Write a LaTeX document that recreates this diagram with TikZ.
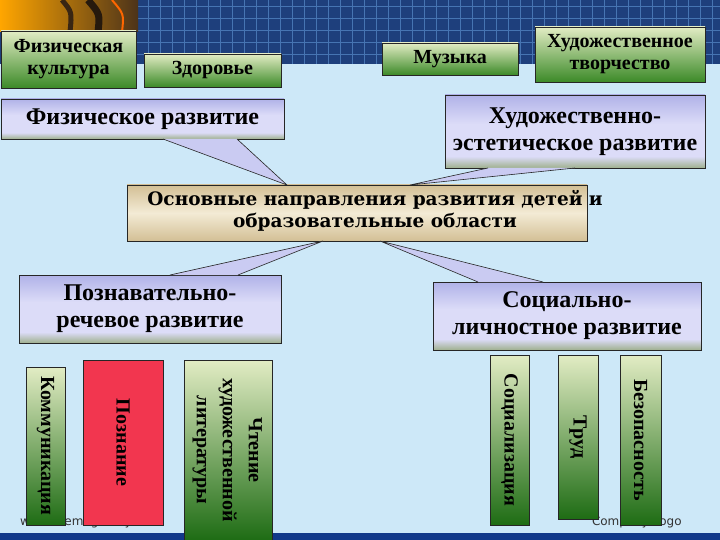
\documentclass[tikz,border=0pt]{standalone}
\usepackage{fontspec}
\usepackage{graphicx}
\setmainfont{Liberation Serif}
\newfontfamily\osnfont{DejaVu Serif}
\newfontfamily\footfont{DejaVu Sans}
\usetikzlibrary{calc}

\definecolor{bgblue}{HTML}{CDE8F8}
\definecolor{hdrblue}{HTML}{1E3F7C}
\definecolor{gridblue}{HTML}{4674B2}
\definecolor{barblue}{HTML}{12398A}
\definecolor{grtop}{HTML}{E2ECC4}
\definecolor{grbot}{HTML}{3C8A28}
\definecolor{vgrbot}{HTML}{1E6C14}
\definecolor{lavtop}{HTML}{B0B2E8}
\definecolor{lavmid}{HTML}{DCDCF8}
\definecolor{lavbot}{HTML}{9FB08E}
\definecolor{tanc}{HTML}{D3BF95}
\definecolor{cream}{HTML}{F3EBD5}
\definecolor{poznred}{HTML}{F2364F}

\pgfdeclareverticalshading{callout}{100bp}{color(0bp)=(lavbot); color(25bp)=(lavbot); color(33bp)=(lavmid); color(55bp)=(lavmid); color(75bp)=(lavtop); color(100bp)=(lavtop)}

\begin{document}
\begin{tikzpicture}[x=1pt, y=-1pt,
    every node/.style={inner sep=0pt, outer sep=0pt},
    grbox/.style={draw=black!85, line width=0.8pt, top color=grtop, bottom color=grbot,
        font=\bfseries\fontsize{20}{22}\selectfont, align=center},
    vbox/.style={draw=black!85, line width=0.8pt, top color=grtop, bottom color=vgrbot,
        font=\bfseries\fontsize{20}{26}\selectfont},
    callbox/.style={draw=black!85, line width=0.8pt, shading=callout,
        font=\bfseries\fontsize{24}{27}\selectfont, align=center},
    pointer/.style={draw=black!85, line width=0.6pt, fill=lavmid!60!lavtop},
    foot/.style={font=\footfont\fontsize{12}{14}\selectfont, text=black!80, anchor=base west}]
    \useasboundingbox (0,0) rectangle (720,540);
    % Background
    \fill[bgblue] (0,0) rectangle (720,540);

    % Header with grid
    \fill[hdrblue] (0,0) rectangle (720,64);
    \foreach \x in {136,148,...,720}
        \draw[gridblue, line width=0.7pt] (\x,0) -- (\x,64);
    \foreach \y in {6,18,...,64}
        \draw[gridblue, line width=0.7pt] (136,\y) -- (720,\y);
    \shade[left color=orange!70!yellow, right color=brown!40!black] (0,0) rectangle (138,32);
    \draw[brown!30!black, line width=5pt] (62,0) .. controls (72,12) .. (70,32);
    \draw[brown!20!black, line width=7pt] (88,0) .. controls (100,14) .. (98,32);
    \draw[orange!80!red, line width=2pt] (112,0) .. controls (124,14) .. (122,32);

    % Bottom bar
    \fill[barblue] (0,533) rectangle (720,540);

    % Footer texts
    \node[foot] (site) at (20,525) {www.themegallery.com};
    \node[foot] (logo) at (592,525) {Company Logo};

    % Top boxes
    \node[grbox, minimum width=135pt, minimum height=57pt] (fizkult) at (68.5,59.5) {Физическая\\культура};
    \node[grbox, minimum width=137pt, minimum height=33pt] (zdorov) at (212.5,70.5) {Здоровье};
    \node[grbox, minimum width=136pt, minimum height=32pt] (muzyka) at (450,59) {Музыка};
    \node[grbox, minimum width=170pt, minimum height=55pt] (hudtv) at (620,54.5) {Художественное\\творчество};

    % Callouts
    \node[callbox, minimum width=283pt, minimum height=40pt] (fizrazv) at (142.5,119) {Физическое развитие};
    \node[callbox, minimum width=260pt, minimum height=73pt] (hudest) at (575,131.5) {Художественно-\\эстетическое развитие};
    \node[callbox, minimum width=262pt, minimum height=68pt] (poznr) at (150,309) {Познавательно-\\речевое развитие};
    \node[callbox, minimum width=268pt, minimum height=68pt] (socl) at (567,316) {Социально-\\личностное развитие};

    % Central box
    \node[draw=black!85, line width=0.8pt, minimum width=460pt, minimum height=56pt,
        top color=tanc, bottom color=tanc, middle color=cream] (osn) at (357,213) {};
    \node[font=\osnfont\bfseries\fontsize{18.5}{22}\selectfont, align=center] (osntext) at (375,211)
        {Основные направления развития детей и\\образовательные области};

    % Pointers
    \draw[pointer] ($(fizrazv.south west)+(162,0)$) -- ($(osn.north west)+(160,0)$) -- ($(fizrazv.south west)+(236,0)$);
    \draw[pointer] ($(hudest.south west)+(43,0)$) -- ($(osn.north west)+(283,0)$) -- ($(hudest.south west)+(130,0)$);
    \draw[pointer] ($(poznr.north west)+(151,0)$) -- ($(osn.south west)+(196,0)$) -- ($(poznr.north west)+(219,0)$);
    \draw[pointer] ($(socl.north west)+(45,0)$) -- ($(osn.south west)+(253,0)$) -- ($(socl.north west)+(110,0)$);

    % Vertical boxes
    \node[vbox, minimum width=39pt, minimum height=158pt] (kommun) at (45.5,446) {\rotatebox{-90}{Коммуникация}};
    \node[draw=black!85, line width=0.8pt, fill=poznred, minimum width=80pt, minimum height=165pt,
        font=\bfseries\fontsize{20}{26}\selectfont] (poznanie) at (123,442.5) {\rotatebox{-90}{Познание}};
    \node[vbox, minimum width=88pt, minimum height=180pt] (chtenie) at (228,450)
        {\rotatebox{-90}{\begin{tabular}{@{}c@{}}Чтение\\художественной\\литературы\end{tabular}}};
    \node[vbox, minimum width=39pt, minimum height=170pt] (socializ) at (509.5,440) {\rotatebox{-90}{Социализация}};
    \node[vbox, minimum width=40pt, minimum height=164pt] (trud) at (578,437) {\rotatebox{-90}{Труд}};
    \node[vbox, minimum width=41pt, minimum height=170pt] (bezop) at (640.5,440) {\rotatebox{-90}{Безопасность}};
\end{tikzpicture}
\end{document}
